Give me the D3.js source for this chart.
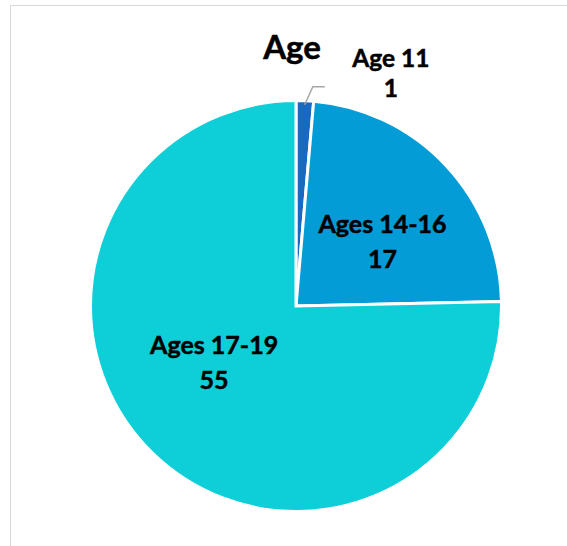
<!DOCTYPE html>
<html>
<head>
<meta charset="utf-8">
<script src="https://cdn.jsdelivr.net/npm/d3@7"></script>
<style>
  html, body { margin: 0; padding: 0; background: #fff; }
  svg { display: block; }
  text { font-family: Lato, "Open Sans", sans-serif; font-weight: bold; fill: #000; stroke: #000; stroke-width: 0.5px; }
</style>
</head>
<body>
<svg id="chart" width="567" height="546"></svg>
<script>
const categories = ["Age 11", "Ages 14-16", "Ages 17-19"];
const values = [1, 17, 55];
const colors = ["#1868C4", "#039CD6", "#0ECFD8"];
const title = "Age";

const W = 567, H = 546;
const svg = d3.select("#chart");

// chart border
svg.append("rect")
  .attr("x", 10.5).attr("y", 5.5)
  .attr("width", W + 20).attr("height", H + 20)
  .attr("fill", "#fff").attr("stroke", "#d9d9d9").attr("stroke-width", 1);

const cx = 296, cy = 306, R = 205.5;
const g = svg.append("g").attr("transform", `translate(${cx},${cy})`);

const data = categories.map((c, i) => ({ cat: c, value: values[i], color: colors[i] }));
const pie = d3.pie().value(d => d.value).sort(null);
const arcs = pie(data);
const arc = d3.arc().innerRadius(0).outerRadius(R);

g.selectAll("path.slice").data(arcs).join("path")
  .attr("class", "slice")
  .attr("d", arc)
  .attr("fill", d => d.data.color)
  .attr("stroke", "#fff")
  .attr("stroke-width", 3)
  .attr("stroke-linejoin", "miter");

// title
svg.append("text")
  .attr("x", 292).attr("y", 59)
  .attr("text-anchor", "middle")
  .style("font-size", "33px")
  .text(title);

// inside labels (best-fit style placement)
const lineH = 35;
const fit = [null, { r: 0.525, rot: 0.113 }, { r: 0.485, rot: 0.19 }];
arcs.slice(1).forEach((a, k) => {
  const f = fit[k + 1];
  const la = d3.arc().innerRadius(R * f.r).outerRadius(R * f.r);
  const c = la.centroid({ startAngle: a.startAngle + f.rot, endAngle: a.endAngle + f.rot });
  const t = g.append("text").attr("text-anchor", "middle").style("font-size", "25px");
  t.append("tspan").attr("x", c[0]).attr("y", c[1] - lineH / 2 + 9).text(a.data.cat);
  t.append("tspan").attr("x", c[0]).attr("y", c[1] + lineH / 2 + 9).text(a.data.value);
});

// outside label for the small slice with leader line
const a0 = arcs[0];
const mid = (a0.startAngle + a0.endAngle) / 2;
const p0 = [Math.sin(mid) * (R - 4), -Math.cos(mid) * (R - 4)];
const p1 = [Math.sin(mid) * R + 8, -Math.cos(mid) * R - 14];
const p2 = [p1[0] + 12, p1[1]];
g.append("polyline")
  .attr("points", [p0, p1, p2].map(p => p.join(",")).join(" "))
  .attr("fill", "none").attr("stroke", "#a6a6a6").attr("stroke-width", 1.5);
const t0 = g.append("text").attr("text-anchor", "middle").style("font-size", "24.5px");
t0.append("tspan").attr("x", p2[0] + 66).attr("y", p2[1] - 19.5).text(a0.data.cat);
t0.append("tspan").attr("x", p2[0] + 66).attr("y", p2[1] + 10).text(a0.data.value);
</script>
</body>
</html>
